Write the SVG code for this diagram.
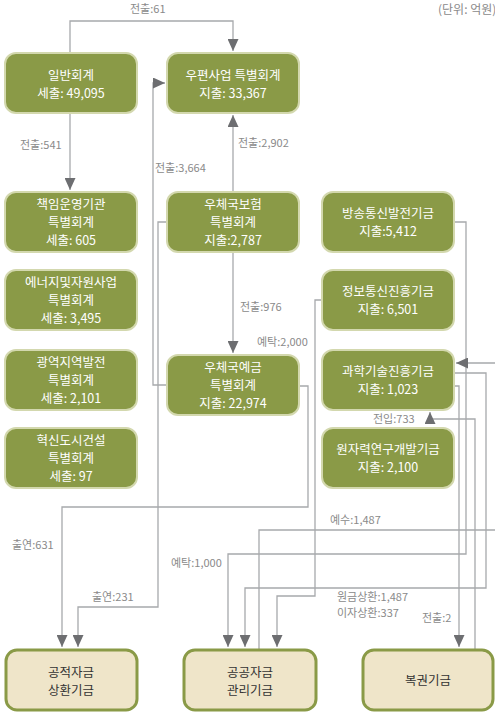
<svg xmlns="http://www.w3.org/2000/svg" width="495" height="713" viewBox="0 0 495 713">
<defs>
<marker id="arr" markerUnits="userSpaceOnUse" markerWidth="12" markerHeight="11" refX="12" refY="5.5" orient="auto">
<path d="M0,0 L12,5.5 L0,11 z" fill="#6d6e71"/>
</marker>
<style>
.n rect{fill:#8a9a47;stroke:#d3d8ae;stroke-width:2}
.n text{fill:#ffffff;font-family:"Noto Sans CJK KR","Noto Sans",sans-serif;font-size:12.5px;text-anchor:middle}
.b rect{fill:#efe5c9;stroke:#8a9a47;stroke-width:3}
.b text{fill:#333333;font-family:"Noto Sans CJK KR","Noto Sans",sans-serif;font-size:12.5px;text-anchor:middle}
.c path{fill:none;stroke:#a7a9ac;stroke-width:1.3}
.c path.a{marker-end:url(#arr)}
.l{fill:#8a8a8a;font-family:"Noto Sans CJK KR","Noto Sans",sans-serif;font-size:11px}
</style>
</defs>
<rect width="495" height="713" fill="#ffffff"/>
<text class="l" x="438" y="14" style="font-size:12px">(단위: 억원)</text>

<g class="c" id="connectors">
<path class="a" d="M70,53 V21 H233 V51"/>
<path class="a" d="M70,113 V190"/>
<path class="a" d="M167,385 H153 V83 H165"/>
<path class="a" d="M233,192 V115"/>
<path class="a" d="M233,252 V353"/>
<path class="a" d="M167,222 H158 V607 H78 V647"/>
<path class="a" d="M299,386 H308 V507 H62 V647"/>
<path class="a" d="M322,300 H315 V596 H277 V647"/>
<path class="a" d="M454,222 H466 V554 H228 V647"/>
<path class="a" d="M259,650 V530 H500 V363 H456"/>
<path class="a" d="M454,373 H486 V588 H245 V647"/>
<path class="a" d="M454,386 H459 V647"/>
<path class="a" d="M475,650 V419 H430 V412"/>
</g>

<g id="labels">
<text class="l" x="130" y="13">전출:61</text>
<text class="l" x="20" y="149">전출:541</text>
<text class="l" x="155" y="172">전출:3,664</text>
<text class="l" x="238" y="147">전출:2,902</text>
<text class="l" x="240" y="311">전출:976</text>
<text class="l" x="257" y="346">예탁:2,000</text>
<text class="l" x="373" y="423">전입:733</text>
<text class="l" x="330" y="524">예수:1,487</text>
<text class="l" x="12" y="549">출연:631</text>
<text class="l" x="171" y="567">예탁:1,000</text>
<text class="l" x="92" y="601">출연:231</text>
<text class="l" x="337" y="601">원금상환:1,487</text>
<text class="l" x="337" y="617">이자상환:337</text>
<text class="l" x="422" y="622">전출:2</text>
</g>

<g class="n" id="n-general"><rect x="5" y="53" width="132" height="60" rx="11"/><text x="71" y="80">일반회계</text><text x="71" y="98">세출: 49,095</text></g>
<g class="n" id="n-postal"><rect x="167" y="53" width="132" height="60" rx="11"/><text x="233" y="80">우편사업 특별회계</text><text x="233" y="98">지출: 33,367</text></g>
<g class="n" id="n-agency"><rect x="5" y="192" width="132" height="60" rx="11"/><text x="71" y="209">책임운영기관</text><text x="71" y="227">특별회계</text><text x="71" y="245">세출: 605</text></g>
<g class="n" id="n-energy"><rect x="5" y="270" width="132" height="60" rx="11"/><text x="71" y="287">에너지및자원사업</text><text x="71" y="305">특별회계</text><text x="71" y="323">세출: 3,495</text></g>
<g class="n" id="n-regional"><rect x="5" y="350" width="132" height="60" rx="11"/><text x="71" y="367">광역지역발전</text><text x="71" y="385">특별회계</text><text x="71" y="403">세출: 2,101</text></g>
<g class="n" id="n-innov"><rect x="5" y="428" width="132" height="60" rx="11"/><text x="71" y="445">혁신도시건설</text><text x="71" y="463">특별회계</text><text x="71" y="481">세출: 97</text></g>
<g class="n" id="n-insurance"><rect x="167" y="192" width="132" height="60" rx="11"/><text x="233" y="209">우체국보험</text><text x="233" y="227">특별회계</text><text x="233" y="245">지출:2,787</text></g>
<g class="n" id="n-deposit"><rect x="167" y="355" width="132" height="60" rx="11"/><text x="233" y="372">우체국예금</text><text x="233" y="390">특별회계</text><text x="233" y="408">지출: 22,974</text></g>
<g class="n" id="n-broadcast"><rect x="322" y="192" width="132" height="60" rx="11"/><text x="388" y="218">방송통신발전기금</text><text x="388" y="236">지출:5,412</text></g>
<g class="n" id="n-ict"><rect x="322" y="270" width="132" height="60" rx="11"/><text x="388" y="296">정보통신진흥기금</text><text x="388" y="314">지출: 6,501</text></g>
<g class="n" id="n-science"><rect x="322" y="350" width="132" height="60" rx="11"/><text x="388" y="376">과학기술진흥기금</text><text x="388" y="394">지출: 1,023</text></g>
<g class="n" id="n-nuclear"><rect x="322" y="428" width="132" height="60" rx="11"/><text x="388" y="454">원자력연구개발기금</text><text x="388" y="472">지출: 2,100</text></g>

<g class="b" id="n-pubrepay"><rect x="6" y="650" width="131" height="60" rx="11"/><text x="71" y="677">공적자금</text><text x="71" y="695">상환기금</text></g>
<g class="b" id="n-pubmgmt"><rect x="184" y="650" width="132" height="60" rx="11"/><text x="250" y="677">공공자금</text><text x="250" y="695">관리기금</text></g>
<g class="b" id="n-lottery"><rect x="363" y="650" width="130" height="60" rx="11"/><text x="428" y="685">복권기금</text></g>
</svg>
